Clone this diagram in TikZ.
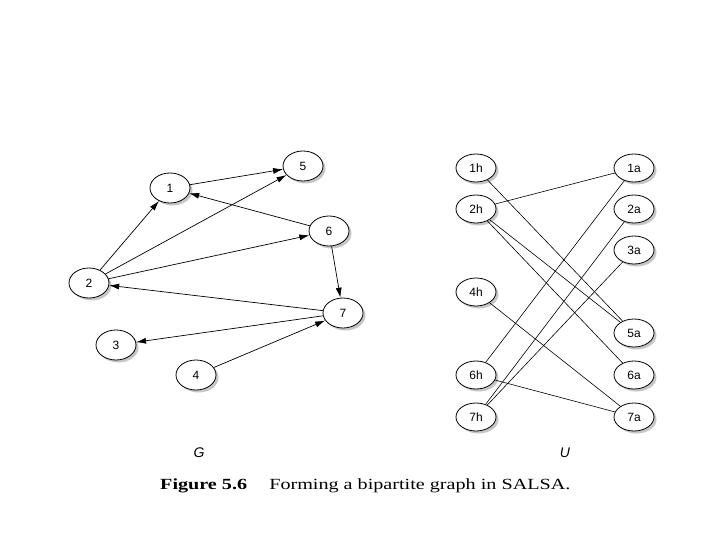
\documentclass[tikz,border=0pt]{standalone}
\usepackage{fontspec}
\setmainfont{Liberation Serif}
\setsansfont{Liberation Sans}
\usetikzlibrary{shapes.geometric,arrows.meta,shadows}
\begin{document}
\begin{tikzpicture}[x=1pt,y=-1pt,
  vnode/.style={ellipse,draw,line width=0.8pt,fill=white,minimum width=40pt,minimum height=30pt,inner sep=0pt,
    font=\sffamily\fontsize{12}{14}\selectfont,
    drop shadow={shadow xshift=2.5pt,shadow yshift=-2.5pt,opacity=0.45,fill=gray}},
  unode/.style={vnode,minimum height=28pt},
  arc/.style={line width=0.7pt,-{Latex[length=10pt,width=6pt]}},
  link/.style={line width=0.6pt}]
\useasboundingbox (0,0) rectangle (720,540);
% graph G
\node[vnode] (n1) at (170,188) {1};
\node[vnode] (n5) at (303,166) {5};
\node[vnode] (n6) at (329,231) {6};
\node[vnode] (n2) at (89,283) {2};
\node[vnode] (n7) at (343,313) {7};
\node[vnode] (n3) at (116,345) {3};
\node[vnode] (n4) at (196,375) {4};
\draw[arc] (n1) -- (n5);
\draw[arc] (n2) -- (n1);
\draw[arc] (n2) -- (n5);
\draw[arc] (n2) -- (n6);
\draw[arc] (n6) -- (n1);
\draw[arc] (n6) -- (n7);
\draw[arc] (n7) -- (n2);
\draw[arc] (n7) -- (n3);
\draw[arc] (n4) -- (n7);
% graph U
\node[unode] (h1) at (476,168) {1h};
\node[unode] (h2) at (476,209) {2h};
\node[unode] (h4) at (476,292) {4h};
\node[unode] (h6) at (476,375) {6h};
\node[unode] (h7) at (476,417) {7h};
\node[unode] (a1) at (634,168) {1a};
\node[unode] (a2) at (634,209) {2a};
\node[unode] (a3) at (634,250) {3a};
\node[unode] (a5) at (634,333) {5a};
\node[unode] (a6) at (634,375) {6a};
\node[unode] (a7) at (634,417) {7a};
\draw[link] (h1) -- (a5);
\draw[link] (h2) -- (a1);
\draw[link] (h2) -- (a5);
\draw[link] (h2) -- (a6);
\draw[link] (h4) -- (a7);
\draw[link] (h6) -- (a1);
\draw[link] (h6) -- (a7);
\draw[link] (h7) -- (a2);
\draw[link] (h7) -- (a3);
% labels
\node[font=\sffamily\itshape\fontsize{14}{16}\selectfont] (lg) at (199,453) {G};
\node[font=\sffamily\itshape\fontsize{14}{16}\selectfont] (lu) at (565,453) {U};
\node[anchor=base west,inner sep=0pt] (cap) at (160,489)
  {\scalebox{1.3}[1]{\fontsize{15.5}{18}\selectfont\textbf{Figure 5.6}\hspace{1.1em}Forming a bipartite graph in SALSA.}};
\end{tikzpicture}
\end{document}
